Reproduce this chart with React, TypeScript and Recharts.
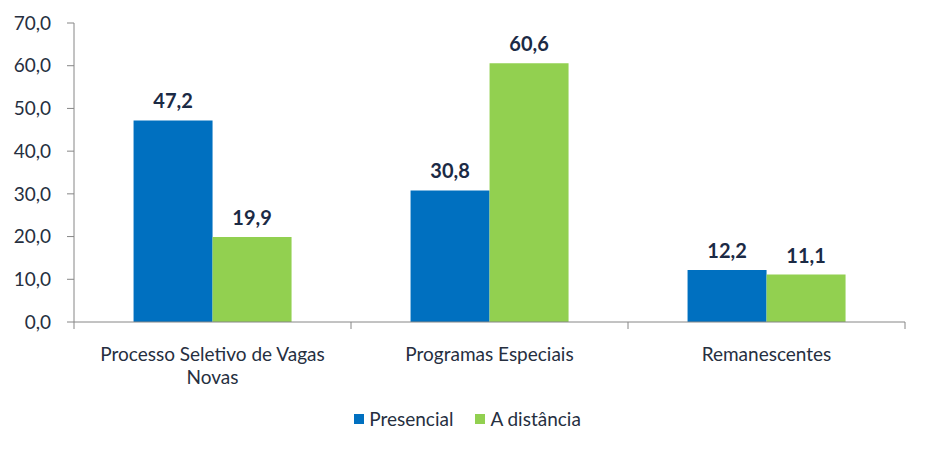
import { Bar, BarChart, LabelList, Legend, XAxis, YAxis } from "recharts";

const categories = [
  "Processo Seletivo de Vagas Novas",
  "Programas Especiais",
  "Remanescentes",
];
const presencial = [47.2, 30.8, 12.2];
const distancia = [19.9, 60.6, 11.1];
const yTicks = [0, 10, 20, 30, 40, 50, 60, 70];

const data = categories.map((name, i) => ({
  name,
  presencial: presencial[i],
  distancia: distancia[i],
}));

const font = "Lato, 'Open Sans', sans-serif";
const textColor = "#262f3f";
const axisColor = "#868686";

const fmt = (v: number) => v.toFixed(1).replace(".", ",");

// greedy word wrap by character count
function wrap(text: string, maxChars: number) {
  const lines: string[] = [];
  let cur = "";
  for (const w of text.split(" ")) {
    const next = cur ? cur + " " + w : w;
    if (next.length > maxChars && cur) {
      lines.push(cur);
      cur = w;
    } else {
      cur = next;
    }
  }
  if (cur) lines.push(cur);
  return lines;
}

function CategoryTick(props: any) {
  const { x, y, payload, index } = props;
  const half = payload?.offset || 138.5;
  const lines = wrap(String(payload.value), 27);
  return (
    <g>
      {index === 0 && (
        <line x1={x - half} y1={y - 8} x2={x - half} y2={y - 1} stroke={axisColor} />
      )}
      <line x1={x + half} y1={y - 8} x2={x + half} y2={y - 1} stroke={axisColor} />
      <text
        x={x}
        y={y + 16}
        textAnchor="middle"
        dominantBaseline="hanging"
        fontSize={19}
        fontFamily={font}
        fill={textColor}
      >
        {lines.map((l, i) => (
          <tspan key={i} x={x} dy={i === 0 ? 0 : 23}>
            {l}
          </tspan>
        ))}
      </text>
    </g>
  );
}

function LegendContent() {
  const items = [
    { label: "Presencial", color: "#0070c0" },
    { label: "A distância", color: "#92d050" },
  ];
  return (
    <div
      style={{
        height: 46,
        display: "flex",
        justifyContent: "center",
        alignItems: "flex-start",
        paddingTop: 3,
        paddingLeft: 30,
        boxSizing: "border-box",
        fontFamily: font,
        fontSize: 19,
        color: textColor,
        gap: 22,
      }}
    >
      {items.map((it) => (
        <span key={it.label} style={{ display: "flex", alignItems: "center" }}>
          <span
            style={{
              width: 10,
              height: 10,
              background: it.color,
              display: "inline-block",
              marginRight: 5,
            }}
          />
          {it.label}
        </span>
      ))}
    </div>
  );
}

export default function App() {
  return (
    <div style={{ position: "absolute", left: 0, top: 0, background: "#fff" }}>
      <BarChart
        width={928}
        height={450}
        data={data}
        margin={{ top: 23, right: 23, bottom: 0, left: 0 }}
        barCategoryGap="21.5%"
        barGap={0}
      >
        <YAxis
          width={74}
          domain={[0, 70]}
          ticks={yTicks}
          interval={0}
          tickFormatter={fmt}
          stroke={axisColor}
          tickSize={7}
          tickMargin={16}
          tick={{ fill: textColor, fontSize: 19, fontFamily: font }}
        />
        <XAxis
          dataKey="name"
          height={82}
          stroke={axisColor}
          tickLine={false}
          interval={0}
          tick={<CategoryTick />}
        />
        <Legend verticalAlign="bottom" content={<LegendContent />} />
        <Bar dataKey="presencial" name="Presencial" fill="#0070c0" isAnimationActive={false}>
          <LabelList
            dataKey="presencial"
            position="top"
            offset={12}
            formatter={(v: any) => fmt(Number(v))}
            fill="#1b2a45"
            fontSize={20}
            fontWeight="bold"
            fontFamily={font}
          />
        </Bar>
        <Bar dataKey="distancia" name="A distância" fill="#92d050" isAnimationActive={false}>
          <LabelList
            dataKey="distancia"
            position="top"
            offset={12}
            formatter={(v: any) => fmt(Number(v))}
            fill="#1b2a45"
            fontSize={20}
            fontWeight="bold"
            fontFamily={font}
          />
        </Bar>
      </BarChart>
    </div>
  );
}
